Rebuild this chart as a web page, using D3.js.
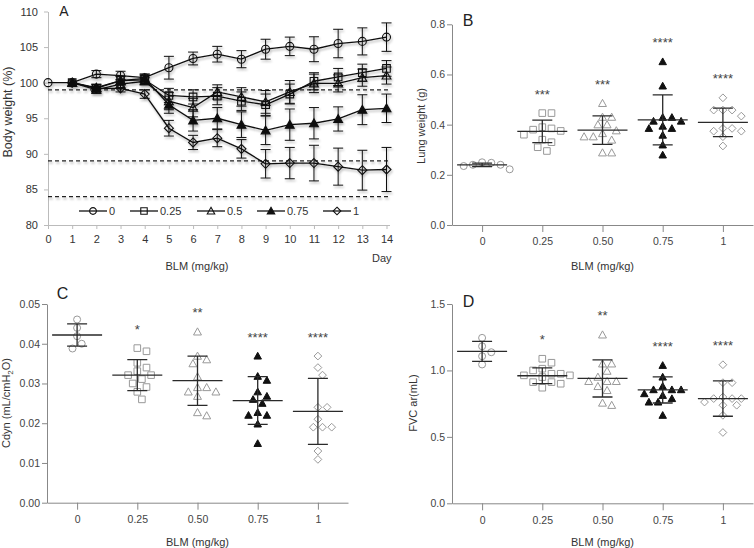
<!DOCTYPE html>
<html><head><meta charset="utf-8">
<script src="https://cdn.jsdelivr.net/npm/d3@7"></script>
<style>
body{margin:0;background:#fff}
svg{display:block;font-family:"Liberation Sans",Arial,Helvetica,sans-serif}
</style>
</head><body>
<svg id="c" width="754" height="548"></svg>
<script>
// ---------------- DATA ----------------
// Panel A: body weight (%) by day
const days = [0,1,2,3,4,5,6,7,8,9,10,11,12,13,14];
const doseNames = ["0","0.25","0.5","0.75","1"];
const bw0   = [100,100,101.2,101.0,100.7,102.1,103.4,104.0,103.3,104.7,105.1,104.7,105.5,105.8,106.4];
const bwE0  = [0,0.2,0.5,0.6,0.5,1.6,0.9,1.1,1.2,1.4,1.3,1.75,2.0,1.9,2.0];
const bw025 = [null,100,99.2,100.3,100.4,98.2,98.0,98.1,97.4,96.9,98.4,100.2,100.8,101.4,102.0];
const bwE025= [0,0.3,0.5,0.6,0.6,1.0,1.0,1.2,1.3,1.5,1.4,1.2,1.2,1.2,1.1];
const bw05  = [null,100,99.0,99.8,100.2,97.4,96.5,98.7,98.0,97.3,98.7,99.9,99.9,100.7,101.0];
const bwE05 = [0,0.3,0.5,0.6,0.5,1.2,1.3,1.0,1.3,1.6,1.6,1.3,1.2,1.2,1.2];
const bw075 = [null,100,99.3,100.3,100.6,96.9,94.7,95.0,94.1,93.3,94.1,94.3,94.9,96.2,96.4];
const bwE075= [0,0.3,0.5,0.6,0.6,1.2,1.5,1.5,1.8,2.0,2.2,2.2,1.7,2.1,2.0];
const bw1   = [null,100,99.2,99.2,98.4,93.6,91.6,92.2,90.7,88.6,88.7,88.7,88.2,87.7,87.8];
const bwE1  = [0,0.2,0.5,0.5,0.6,1.1,1.0,1.2,1.3,2.0,2.2,2.5,2.6,2.8,3.1];
const refLines = [99, 89, 84];
const refLabels = [{v:89,t:"10%"},{v:84,t:"15%"}];
const aYTicks = [80,85,90,95,100,105,110];

// Panels B-D categories
const cats = ["0","0.25","0.50","0.75","1"];

// Panel B: lung weight (g)
const lung0   = [0.25,0.248,0.24,0.24,0.235,0.222];
const lung025 = [0.446,0.446,0.39,0.385,0.38,0.375,0.36,0.34,0.33,0.31,0.295];
const lung05  = [0.485,0.43,0.43,0.40,0.40,0.376,0.365,0.352,0.352,0.339,0.288,0.288];
const lung075 = [0.651,0.554,0.429,0.429,0.414,0.414,0.394,0.385,0.385,0.358,0.319,0.279];
const lung1   = [0.507,0.458,0.458,0.458,0.434,0.385,0.385,0.374,0.374,0.352,0.315];
const lungMean = [0.240,0.373,0.378,0.419,0.409];
const lungSD   = [0.007,0.045,0.057,0.0995,0.0565];
const lungSig  = ["","***","***","****","****"];
const lungTicks = [0,0.2,0.4,0.6,0.8];

// Panel C: Cdyn
const cdyn0   = [0.0461,0.044,0.0419,0.040,0.0388];
const cdyn025 = [0.0389,0.0381,0.0352,0.034,0.0331,0.0321,0.0321,0.0311,0.030,0.0291,0.0279,0.026];
const cdyn05  = [0.043,0.0369,0.036,0.035,0.0317,0.029,0.029,0.0279,0.0279,0.0268,0.0227,0.0219];
const cdyn075 = [0.0369,0.0318,0.0308,0.0279,0.0268,0.026,0.025,0.0227,0.022,0.022,0.0198,0.0149];
const cdyn1   = [0.0369,0.034,0.0321,0.024,0.024,0.021,0.019,0.019,0.019,0.013,0.0109];
const cdynMean = [0.0422,0.0321,0.0307,0.0257,0.0230];
const cdynSD   = [0.0028,0.0039,0.0062,0.0060,0.0083];
const cdynSig  = ["","*","**","****","****"];
const cdynTicks = [0,0.01,0.02,0.03,0.04,0.05];

// Panel D: FVC
const fvc0   = [1.245,1.182,1.137,1.107,1.045];
const fvc025 = [1.088,1.058,1.013,1.0,0.975,0.975,0.963,0.963,0.95,0.912,0.912,0.9,0.87];
const fvc05  = [1.268,1.05,1.05,0.995,0.95,0.918,0.918,0.918,0.88,0.85,0.755,0.738];
const fvc075 = [1.038,0.95,0.88,0.855,0.855,0.855,0.825,0.812,0.788,0.762,0.762,0.662];
const fvc1   = [1.043,0.908,0.908,0.8,0.788,0.788,0.788,0.762,0.738,0.738,0.662,0.533];
const fvcMean = [1.143,0.960,0.940,0.853,0.788];
const fvcSD   = [0.075,0.060,0.140,0.098,0.133];
const fvcSig  = ["","*","**","****","****"];
const fvcTicks = [0,0.5,1.0,1.5];

// ---------------- DRAWING ----------------
const svg = d3.select("#c");
const defs = svg.append("defs");
const flt = defs.append("filter").attr("id","sh").attr("x","-5%").attr("y","-10%").attr("width","115%").attr("height","130%");
flt.append("feDropShadow").attr("dx",1).attr("dy",2).attr("stdDeviation",1.3)
   .attr("flood-color","#000").attr("flood-opacity",0.3);

function symPath(type, s){
  if(type==="circle") return `M${s},0A${s},${s} 0 1,1 ${-s},0A${s},${s} 0 1,1 ${s},0Z`;
  if(type==="square") return `M${-s},${-s}H${s}V${s}H${-s}Z`;
  if(type==="triangle"||type==="triangleF"){const h=s*1.1;return `M0,${-h}L${s*1.1},${h*0.8}L${-s*1.1},${h*0.8}Z`;}
  if(type==="diamond"){const d=s*1.25;return `M0,${-d}L${d},0L0,${d}L${-d},0Z`;}
}
const symTypes = ["circle","square","triangle","triangleF","diamond"];

function styleAxis(g, lineCol, txtCol, fs){
  g.selectAll(".domain").attr("stroke",lineCol).attr("stroke-width",1);
  g.selectAll(".tick line").attr("stroke",lineCol);
  g.selectAll(".tick text").attr("fill",txtCol).attr("font-size",fs)
    .attr("font-family","'Liberation Sans',Arial,Helvetica,sans-serif");
}

// ---------- Panel A ----------
const xA = d3.scaleLinear().domain([0,14]).range([48,386.5]);
const yA = d3.scaleLinear().domain([80,110]).range([225,11.5]);
const gA = svg.append("g");
const axA = gA.append("g").attr("transform","translate(0,225)")
  .call(d3.axisBottom(xA).tickValues(days).tickSize(4).tickPadding(6).tickSizeOuter(0));
styleAxis(axA,"#bbb","#333",11);
axA.select(".domain").attr("d","M48,0.5H390");
const ayA = gA.append("g").attr("transform","translate(48,0)")
  .call(d3.axisLeft(yA).tickValues(aYTicks).tickSize(4).tickPadding(6).tickSizeOuter(0));
styleAxis(ayA,"#bbb","#333",11);

// reference dashed lines
const shG = gA.append("g").attr("filter","url(#sh)");
shG.selectAll("line.ref").data(refLines).join("line")
  .attr("x1",48).attr("x2",390).attr("y1",d=>yA(d)).attr("y2",d=>yA(d))
  .attr("stroke","#222").attr("stroke-width",1.3).attr("stroke-dasharray","4,3");
gA.selectAll("text.ref").data(refLabels).join("text")
  .attr("x",60).attr("y",d=>yA(d)-5).text(d=>d.t).attr("font-size",11).attr("fill","#333");

const seriesA = [
  {name:doseNames[0],v:bw0,e:bwE0,sym:symTypes[0]},
  {name:doseNames[1],v:bw025,e:bwE025,sym:symTypes[1]},
  {name:doseNames[2],v:bw05,e:bwE05,sym:symTypes[2]},
  {name:doseNames[3],v:bw075,e:bwE075,sym:symTypes[3]},
  {name:doseNames[4],v:bw1,e:bwE1,sym:symTypes[4]}
];
const aSize = {circle:4,square:3.8,triangle:4,triangleF:4,diamond:3.6};
const lineA = d3.line().defined(d=>d.v!=null).x(d=>xA(d.d)).y(d=>yA(d.v));
seriesA.forEach(s=>{
  const pts = days.map((d,i)=>({d,v:s.v[i],e:s.e[i]})).filter(p=>p.v!=null);
  const g = shG.append("g");
  pts.filter(p=>p.e>0.35).forEach(p=>{
    const x=xA(p.d), y1=yA(p.v+p.e), y2=yA(p.v-p.e);
    g.append("path").attr("d",`M${x},${y1}V${y2}M${x-5},${y1}H${x+5}M${x-5},${y2}H${x+5}`)
      .attr("stroke","#111").attr("stroke-width",1).attr("fill","none");
  });
  g.append("path").datum(pts).attr("d",lineA).attr("fill","none").attr("stroke","#111").attr("stroke-width",1.3);
  g.selectAll("path.m").data(pts).join("path").attr("class","m")
    .attr("transform",p=>`translate(${xA(p.d)},${yA(p.v)})`)
    .attr("d",symPath(s.sym,aSize[s.sym]))
    .attr("fill",s.sym==="triangleF"?"#111":"none")
    .attr("stroke","#111").attr("stroke-width",1.1);
});

// legend
const legX = [79,130,197,257,323];
seriesA.forEach((s,i)=>{
  const x0=legX[i], y=211;
  const lg = gA.append("g");
  lg.append("line").attr("x1",x0).attr("x2",x0+28).attr("y1",y).attr("y2",y).attr("stroke","#111").attr("stroke-width",1.3);
  lg.append("path").attr("transform",`translate(${x0+14},${y})`).attr("d",symPath(s.sym,aSize[s.sym]*0.85))
    .attr("fill",s.sym==="triangleF"?"#111":"none").attr("stroke","#111").attr("stroke-width",1.1);
  lg.append("text").attr("x",x0+30).attr("y",y+4).text(s.name).attr("font-size",11).attr("fill","#333");
});

gA.append("text").attr("x",64).attr("y",15.5).attr("text-anchor","middle").attr("font-size",14).attr("fill","#222").text("A");
gA.append("text").attr("transform","translate(12,112) rotate(-90)").attr("text-anchor","middle")
  .attr("font-size",12.5).attr("fill","#333").text("Body weight (%)");
gA.append("text").attr("x",197).attr("y",270).attr("text-anchor","middle").attr("font-size",11).attr("fill","#333").text("BLM (mg/kg)");
gA.append("text").attr("x",372).attr("y",262).attr("font-size",11).attr("fill","#333").text("Day");

// ---------- Scatter panels ----------
function swarm(vals, y, cx, minD){
  const pts = vals.map(v=>({v,py:y(v)})).sort((a,b)=>a.py-b.py);
  const placed=[];
  const cands=[0];
  for(let k=1;k<=10;k++){cands.push(k*4.6,-k*4.6);}
  pts.forEach(p=>{
    p.dx=0;
    for(const dx of cands){
      if(placed.every(q=>Math.hypot(q.dx-dx,q.py-p.py)>=minD)){p.dx=dx;break;}
    }
    placed.push(p);
  });
  return pts.map(p=>({v:p.v,px:cx+p.dx,py:p.py}));
}

function scatterPanel(o){
  const g = svg.append("g");
  const x = d3.scalePoint().domain(cats).range(o.xRange).padding(0.5);
  const y = d3.scaleLinear().domain(o.yDomain).range(o.yRange);
  const ax = g.append("g").attr("transform",`translate(0,${o.yRange[0]})`)
    .call(d3.axisBottom(x).tickSize(7).tickPadding(6).tickSizeOuter(0));
  styleAxis(ax,"#888","#444",10.5);
  const ay = g.append("g").attr("transform",`translate(${o.xRange[0]},0)`)
    .call(d3.axisLeft(y).tickValues(o.ticks).tickFormat(d3.format(o.fmt)).tickSize(5).tickPadding(2).tickSizeOuter(0));
  styleAxis(ay,"#888","#444",10.5);

  const sizes = {circle:3.5,square:3.3,triangle:3.6,triangleF:3.4,diamond:3.1};
  o.groups.forEach((vals,i)=>{
    const cx = x(cats[i]);
    const t = symTypes[i];
    const pts = swarm(vals,y,cx,8);
    g.append("g").selectAll("path").data(pts).join("path")
      .attr("transform",p=>`translate(${p.px},${p.py})`)
      .attr("d",symPath(t,sizes[t]))
      .attr("fill",t==="triangleF"?"#111":"none")
      .attr("stroke",t==="triangleF"?"#111":"#999").attr("stroke-width",1);
    const m=o.means[i], sd=o.sds[i];
    const ym=y(m), yt=y(m+sd), yb=y(m-sd);
    g.append("path").attr("d",`M${cx-25},${ym}H${cx+25}M${cx},${yt}V${yb}M${cx-10},${yt}H${cx+10}M${cx-10},${yb}H${cx+10}`)
      .attr("stroke","#2a2a2a").attr("stroke-width",1.3).attr("fill","none");
    if(o.sig[i]){
      g.append("text").attr("x",cx).attr("y",y(d3.max(vals))-22+7.5).attr("text-anchor","middle")
        .attr("font-size",13).attr("fill","#444").text(o.sig[i]);
    }
  });
  g.append("text").attr("x",o.letter[1]).attr("y",o.letter[2]).attr("text-anchor","middle")
    .attr("font-size",16).attr("fill","#222").text(o.letter[0]);
  const yt = g.append("text").attr("transform",`translate(${o.yTitlePos[0]},${o.yTitlePos[1]}) rotate(-90)`)
    .attr("text-anchor","middle").attr("font-size",11).attr("fill","#333");
  o.yTitle.forEach(part=>{
    const ts = yt.append("tspan").text(part.t);
    if(part.sub) ts.attr("font-size",8).attr("dy",3);
    if(part.after) ts.attr("dy",-3);
  });
  g.append("text").attr("x",(o.xRange[0]+o.xRange[1])/2).attr("y",o.xTitleY).attr("text-anchor","middle")
    .attr("font-size",11).attr("fill","#333").text("BLM (mg/kg)");
}

scatterPanel({
  xRange:[452,753], yDomain:[0,0.8], yRange:[225,24.3], ticks:lungTicks, fmt:".1f",
  groups:[lung0,lung025,lung05,lung075,lung1], means:lungMean, sds:lungSD, sig:lungSig,
  letter:["B",468,26], yTitle:[{t:"Lung weight (g)"}], yTitlePos:[425,126], xTitleY:270
});
scatterPanel({
  xRange:[47,348], yDomain:[0,0.05], yRange:[502.7,304], ticks:cdynTicks, fmt:".2f",
  groups:[cdyn0,cdyn025,cdyn05,cdyn075,cdyn1], means:cdynMean, sds:cdynSD, sig:cdynSig,
  letter:["C",62.5,298.5], yTitle:[{t:"Cdyn (mL/cmH"},{t:"2",sub:true},{t:"O)",after:true}], yTitlePos:[10,403], xTitleY:545.5
});
scatterPanel({
  xRange:[452,753], yDomain:[0,1.5], yRange:[503.3,304], ticks:fvcTicks, fmt:".1f",
  groups:[fvc0,fvc025,fvc05,fvc075,fvc1], means:fvcMean, sds:fvcSD, sig:fvcSig,
  letter:["D",468.5,307], yTitle:[{t:"FVC ar(mL)"}], yTitlePos:[417,403], xTitleY:545.5
});
</script>
</body></html>
